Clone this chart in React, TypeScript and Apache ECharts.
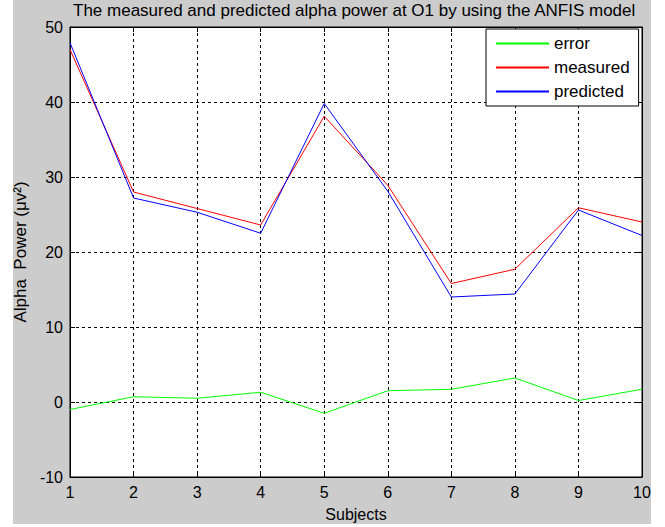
import React, { useEffect, useRef } from "react";
import * as echarts from "echarts";

const subjects = [1, 2, 3, 4, 5, 6, 7, 8, 9, 10];
const errorValues = [-1.0, 0.7, 0.5, 1.3, -1.5, 1.5, 1.7, 3.2, 0.2, 1.7];
const measuredValues = [47.0, 28.0, 25.8, 23.6, 38.1, 28.9, 15.8, 17.7, 25.9, 24.0];
const predictedValues = [47.9, 27.2, 25.3, 22.5, 39.8, 28.1, 14.0, 14.4, 25.6, 22.2];
const seriesNames = ["error", "measured", "predicted"];
const seriesColors = ["#00ff00", "#ff0000", "#0000ff"];
const yTickMin = -10;
const yTickMax = 50;

const FONT = "'Liberation Sans', Arial, sans-serif";

export default function App() {
  const ref = useRef<HTMLDivElement>(null);
  useEffect(() => {
    if (!ref.current) return;
    const chart = echarts.init(ref.current, null, { renderer: "svg" });
    const pairs = (vals: number[]) => subjects.map((s, i) => [s, vals[i]]);
    const axisCommon = {
      type: "value" as const,
      axisLine: { show: true, onZero: false, lineStyle: { color: "#000", width: 1 } },
      axisTick: { show: true, inside: true, length: 5, lineStyle: { color: "#000" } },
    };
    const allValues = [errorValues, measuredValues, predictedValues];
    chart.setOption({
      animation: false,
      color: seriesColors,
      backgroundColor: "#fff",
      textStyle: { fontFamily: FONT },
      graphic: [
        {
          type: "rect",
          z: -10,
          silent: true,
          shape: { x: 13, y: 0, width: 638, height: 524 },
          style: { fill: "#cccccc" },
        },
      ],
      title: {
        text: "The measured and predicted alpha power at O1 by using the ANFIS model",
        left: 73,
        top: 2,
        padding: 0,
        textStyle: { fontFamily: FONT, fontSize: 17, fontWeight: "normal", color: "#000" },
      },
      grid: {
        left: 70,
        right: 23,
        top: 27,
        bottom: 49,
        show: true,
        backgroundColor: "#fff",
        borderColor: "#000",
        borderWidth: 1,
        containLabel: false,
      },
      legend: {
        orient: "vertical",
        left: 486,
        top: 29,
        padding: [6, 9, 6, 9],
        itemGap: 7,
        itemWidth: 53,
        itemHeight: 14,
        itemStyle: { opacity: 0 },
        backgroundColor: "#fff",
        borderColor: "#000",
        borderWidth: 1,
        borderRadius: 0,
        textStyle: { fontFamily: FONT, fontSize: 17, lineHeight: 17, color: "#000" },
        data: seriesNames,
      },
      xAxis: [
        {
          ...axisCommon,
          position: "bottom",
          min: 1,
          max: 10,
          interval: 1,
          name: "Subjects",
          nameLocation: "middle",
          nameGap: 29,
          nameTextStyle: { fontFamily: FONT, fontSize: 16, color: "#000" },
          axisLabel: { show: true, margin: 7, fontFamily: FONT, fontSize: 16, color: "#000" },
          splitLine: { show: true, lineStyle: { color: "#000", type: [3, 3], width: 1 } },
        },
        {
          ...axisCommon,
          position: "top",
          min: 1,
          max: 10,
          interval: 1,
          axisLabel: { show: false },
          splitLine: { show: false },
        },
      ],
      yAxis: [
        {
          ...axisCommon,
          position: "left",
          min: yTickMin,
          max: yTickMax,
          interval: 10,
          name: "Alpha  Power (μv²)",
          nameLocation: "middle",
          nameGap: 39,
          nameTextStyle: { fontFamily: FONT, fontSize: 17, color: "#000" },
          axisLabel: { show: true, margin: 7, fontFamily: FONT, fontSize: 16, color: "#000" },
          splitLine: { show: true, lineStyle: { color: "#000", type: [3, 3], width: 1 } },
        },
        {
          ...axisCommon,
          position: "right",
          min: yTickMin,
          max: yTickMax,
          interval: 10,
          axisLabel: { show: false },
          splitLine: { show: false },
        },
      ],
      series: seriesNames.map((name, i) => ({
        name,
        type: "line",
        symbol: "none",
        data: pairs(allValues[i]),
        lineStyle: { color: seriesColors[i], width: 1 },
        itemStyle: { color: seriesColors[i] },
      })),
    });
    return () => chart.dispose();
  }, []);
  return (
    <div
      ref={ref}
      style={{ position: "fixed", left: 0, top: 0, width: 665, height: 527 }}
    />
  );
}
